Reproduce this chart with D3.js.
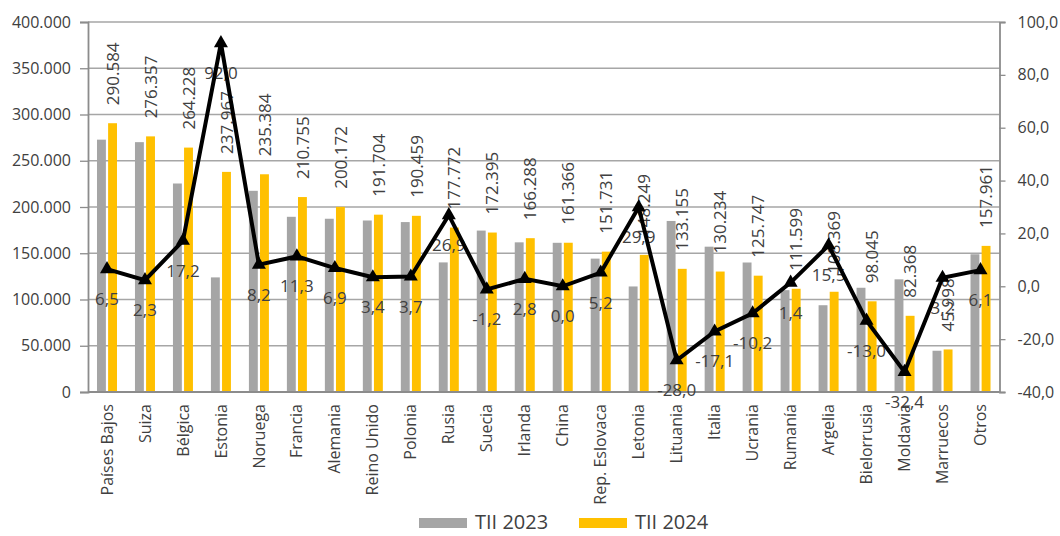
<!DOCTYPE html>
<meta charset="utf-8">
<html>
<script src="https://d3js.org/d3.v7.min.js"></script>
<style>
  body { margin: 0; background: #fff; }
  text { font-family: "Open Sans", sans-serif; fill: #404040; }
</style>
<div id="chart"></div>
<script>

// data
var paises = ["Países Bajos", "Suiza", "Bélgica", "Estonia", "Noruega", "Francia", "Alemania",
  "Reino Unido", "Polonia", "Rusia", "Suecia", "Irlanda", "China", "Rep. Eslovaca", "Letonia",
  "Lituania", "Italia", "Ucrania", "Rumanía", "Argelia", "Bielorrusia", "Moldavia", "Marruecos", "Otros"];
var tii2023 = [272800, 270100, 225400, 123900, 217500, 189400, 187300, 185400, 183700, 140100,
  174500, 161800, 161300, 144200, 114100, 184900, 157100, 140000, 110100, 93800, 112700, 121800, 44600, 148900];
var tii2024 = [290584, 276357, 264228, 237967, 235384, 210755, 200172, 191704, 190459, 177772,
  172395, 166288, 161366, 151731, 148249, 133155, 130234, 125747, 111599, 108369, 98045, 82368, 45998, 157961];
var variacion = [6.5, 2.3, 17.2, 92.0, 8.2, 11.3, 6.9, 3.4, 3.7, 26.9, -1.2, 2.8, 0.0, 5.2, 29.9,
  -28.0, -17.1, -10.2, 1.4, 15.5, -13.0, -32.4, 3.2, 6.1];
var series = ["TII 2023", "TII 2024"];
var leftTicks = [0, 50000, 100000, 150000, 200000, 250000, 300000, 350000, 400000];
var rightTicks = [-40, -20, 0, 20, 40, 60, 80, 100];

var width = 1060, height = 536;
var mLeft = 88, mRight = 999.5, mTop = 22, mBottom = 392;

var locale = d3.formatLocale({decimal: ",", thousands: ".", grouping: [3], currency: ["", ""], minus: "-"});
var fmtMiles = locale.format(",d");
var fmtPct = locale.format(".1f");

var color = d3.scaleOrdinal().domain(series).range(["#a5a5a5", "#ffc000"]);

var svg = d3.select("#chart").append("svg")
    .attr("width", width)
    .attr("height", height);

var x0 = d3.scaleBand().domain(paises).range([mLeft, mRight]).padding(0);
var bw = x0.bandwidth();
var x1 = d3.scaleBand().domain(series).range([bw / 2 - 10, bw / 2 + 10]).paddingInner(0.2);
var y = d3.scaleLinear().domain([0, 400000]).range([mBottom, mTop]);
var y2 = d3.scaleLinear().domain([-40, 100]).range([mBottom, mTop]);

// gridlines
svg.append("g")
  .selectAll("line")
  .data(leftTicks.slice(1))
  .enter().append("line")
    .attr("x1", mLeft).attr("x2", mRight)
    .attr("y1", function(d) { return y(d); })
    .attr("y2", function(d) { return y(d); })
    .attr("stroke", "#a6a6a6")
    .attr("stroke-width", 1.3);

// axes
var yAxis = svg.append("g")
    .attr("transform", "translate(" + mLeft + ",0)")
    .call(d3.axisLeft(y).tickValues(leftTicks).tickSize(8).tickPadding(9)
      .tickFormat(function(d) { return fmtMiles(d); }));
var y2Axis = svg.append("g")
    .attr("transform", "translate(" + mRight + ",0)")
    .call(d3.axisRight(y2).tickValues(rightTicks).tickSize(6).tickPadding(12)
      .tickFormat(function(d) { return fmtPct(d); }));
[yAxis, y2Axis].forEach(function(a) {
  a.select(".domain").attr("stroke", "#8c8c8c").attr("stroke-width", 1.8);
  a.selectAll(".tick line").attr("stroke", "#8c8c8c").attr("stroke-width", 1.3);
  a.selectAll(".tick text").attr("font-size", 16).attr("fill", "#404040")
    .style("font-family", "'Open Sans', sans-serif");
});

// bars
var groups = svg.append("g")
  .selectAll("g")
  .data(paises)
  .enter().append("g")
    .attr("transform", function(d) { return "translate(" + x0(d) + ",0)"; });

groups.selectAll("rect")
  .data(function(d, i) { return [{s: series[0], v: tii2023[i]}, {s: series[1], v: tii2024[i]}]; })
  .enter().append("rect")
    .attr("x", function(d) { return x1(d.s); })
    .attr("width", x1.bandwidth())
    .attr("y", function(d) { return y(d.v); })
    .attr("height", function(d) { return mBottom - y(d.v); })
    .attr("fill", function(d) { return color(d.s); });

// x axis line
svg.append("line")
    .attr("x1", mLeft).attr("x2", mRight)
    .attr("y1", mBottom).attr("y2", mBottom)
    .attr("stroke", "#8c8c8c")
    .attr("stroke-width", 1.8);

// category labels
svg.append("g")
  .selectAll("text")
  .data(paises)
  .enter().append("text")
    .attr("transform", function(d) {
      return "translate(" + (x0(d) + bw / 2) + "," + (mBottom + 12) + ") rotate(-90)";
    })
    .attr("dy", "0.35em")
    .attr("text-anchor", "end")
    .attr("font-size", 16)
    .text(function(d) { return d; });

// value labels for TII 2024
svg.append("g")
  .selectAll("text")
  .data(paises)
  .enter().append("text")
    .attr("transform", function(d, i) {
      var cx = x0(d) + x1(series[1]) + x1.bandwidth() / 2;
      return "translate(" + cx + "," + (y(tii2024[i]) - 18) + ") rotate(-90)";
    })
    .attr("dy", "0.36em")
    .attr("text-anchor", "start")
    .attr("font-size", 17)
    .text(function(d, i) { return fmtMiles(tii2024[i]); });

// percentage labels
svg.append("g")
  .selectAll("text")
  .data(paises)
  .enter().append("text")
    .attr("x", function(d) { return x0(d) + bw / 2; })
    .attr("y", function(d, i) { return y2(variacion[i]) + 36; })
    .attr("text-anchor", "middle")
    .attr("font-size", 17)
    .text(function(d, i) { return fmtPct(variacion[i]); });

// line
var line = d3.line()
    .x(function(d) { return x0(d) + bw / 2; })
    .y(function(d, i) { return y2(variacion[i]); });

svg.append("path")
    .datum(paises)
    .attr("d", line)
    .attr("fill", "none")
    .attr("stroke", "#000")
    .attr("stroke-width", 4)
    .attr("stroke-linejoin", "miter");

svg.append("g")
  .selectAll("path")
  .data(paises)
  .enter().append("path")
    .attr("d", d3.symbol().type(d3.symbolTriangle).size(85))
    .attr("transform", function(d, i) {
      return "translate(" + (x0(d) + bw / 2) + "," + y2(variacion[i]) + ")";
    })
    .attr("fill", "#000");

// legend
var legend = svg.append("g")
  .selectAll("g")
  .data(series)
  .enter().append("g")
    .attr("transform", function(d, i) { return "translate(" + (419 + i * 160) + ",518)"; });

legend.append("rect")
    .attr("width", 48)
    .attr("height", 10)
    .attr("fill", function(d) { return color(d); });

legend.append("text")
    .attr("x", 56)
    .attr("y", 11)
    .attr("font-size", 20)
    .text(function(d) { return d; });

</script>
</html>
